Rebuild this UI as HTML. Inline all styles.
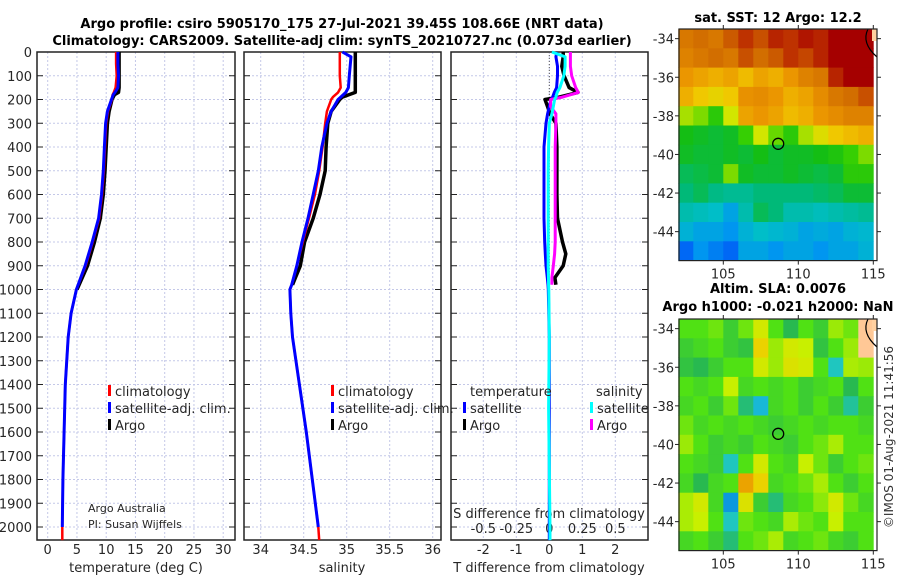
<!DOCTYPE html>
<html><head><meta charset="utf-8"><style>
body{margin:0;background:#fff}
svg{display:block;font-family:"DejaVu Sans","Liberation Sans",sans-serif}
</style></head><body>
<svg id="c" width="900" height="580" viewBox="0 0 900 580">
<text x="342" y="28" text-anchor="middle" font-weight="bold" font-size="13">Argo profile: csiro 5905170_175 27-Jul-2021 39.45S 108.66E (NRT data)</text>
<text x="342" y="45" text-anchor="middle" font-weight="bold" font-size="13">Climatology: CARS2009. Satellite-adj clim: synTS_20210727.nc (0.073d earlier)</text>
<text x="778" y="22" text-anchor="middle" font-weight="bold" font-size="13">sat. SST: 12 Argo: 12.2</text>
<text x="778" y="293" text-anchor="middle" font-weight="bold" font-size="13">Altim. SLA: 0.0076</text>
<text x="778" y="311" text-anchor="middle" font-weight="bold" font-size="13">Argo h1000: -0.021 h2000: NaN</text>
<text transform="translate(893,437) rotate(-90)" text-anchor="middle" font-size="12" fill="#333">©IMOS 01-Aug-2021 11:41:56</text>
<g id="g"></g>
</svg>
<script>
// ---- profile data ----
const depthT = [0,50,100,150,170,180,200,250,300,400,500,600,700,800,900,1000,1100,1200,1400,1600,1800,2000,2055];
const tempArgo = [12.2,12.2,12.2,12.2,12.1,11.4,11.0,10.5,10.2,10.0,9.8,9.5,9.0,8.0,6.8,5.0,null,null,null,null,null,null,null];
const tempClim = [11.7,11.7,11.8,11.6,11.3,11.1,11.0,10.3,10.0,9.8,9.6,9.3,8.8,7.7,6.5,4.9,4.0,3.5,3.0,2.8,2.6,2.5,2.5];
const tempSat = [12.0,12.0,12.1,12.0,11.5,11.2,10.9,10.2,9.9,9.7,9.5,9.2,8.7,7.6,6.4,4.9,4.0,3.5,3.0,2.8,2.6,2.5,null];
const depthS = [0,20,100,150,170,190,200,250,300,400,500,600,700,800,900,980,1000,1100,1200,1400,1600,1800,2000,2055];
const salArgo = [35.10,35.10,35.10,35.10,35.10,34.95,34.92,34.82,34.78,34.76,34.75,34.69,34.61,34.51,34.46,34.37,null,null,null,null,null,null,null,null];
const salClim = [34.92,34.92,34.92,34.93,34.90,34.84,34.82,34.77,34.75,34.72,34.68,34.63,34.56,34.49,34.42,34.36,34.34,34.35,34.37,34.45,34.53,34.60,34.67,34.68];
const salSat = [34.95,35.05,35.03,35.02,34.99,34.93,34.90,34.82,34.77,34.71,34.67,34.61,34.55,34.48,34.42,34.36,34.34,34.35,34.37,34.45,34.53,34.60,34.67,null];
const depthD = [0,20,60,100,150,170,190,200,230,260,300,400,500,600,700,800,850,900,950,980,1000,1200,1500,2000,2055];
const dTArgo = [0.42,0.42,0.38,0.45,0.6,0.87,0.3,-0.13,-0.05,0.02,0.2,0.23,0.23,0.23,0.25,0.4,0.5,0.42,0.17,0.2,null,null,null,null,null];
const dSArgo = [0.16,0.16,0.16,0.17,0.2,0.22,0.1,0.01,0.01,0.05,0.05,0.045,0.045,0.045,0.045,0.045,0.04,0.03,0.02,0.02,null,null,null,null,null];
const dTSat = [0.23,0.2,0.25,0.25,0.22,0.15,0.1,0.05,0.0,-0.05,-0.1,-0.16,-0.16,-0.16,-0.16,-0.14,-0.12,-0.1,-0.06,-0.04,-0.03,0.0,0.0,0.0,0.0];
const dSSat = [0.02,0.12,0.12,0.11,0.08,0.06,0.05,0.04,0.03,0.02,0.0,-0.005,-0.008,-0.008,-0.008,-0.008,-0.008,-0.008,-0.006,-0.005,-0.004,0,-0.005,0.005,0.005];
const depthTicks = [0,100,200,300,400,500,600,700,800,900,1000,1100,1200,1300,1400,1500,1600,1700,1800,1900,2000];
const tTicks = [0,5,10,15,20,25,30];
const sTicks = [34,34.5,35,35.5,36];
const sTickLabels = ['34','34.5','35','35.5','36'];
const dTTicks = [-2,-1,0,1,2];
const dSTicks = [-0.5,-0.25,0,0.25,0.5];
const dSTickLabels = ['-0.5','-0.25','0','0.25','0.5'];
// ---- map data (rows lat -34..-45, cols lon 102..114) ----
const sstGrid = [
[.80,.82,.80,.84,.88,.85,.90,.88,.92,.90,.95,.95,.95],
[.78,.80,.82,.80,.85,.82,.84,.88,.86,.90,.95,.95,.95],
[.74,.72,.70,.72,.68,.72,.70,.74,.78,.80,.90,.95,.95],
[.70,.66,.64,.66,.75,.76,.74,.70,.72,.76,.80,.82,.85],
[.58,.56,.50,.60,.72,.74,.72,.68,.70,.74,.76,.78,.78],
[.46,.45,.44,.45,.52,.60,.55,.50,.58,.62,.66,.68,.70],
[.45,.44,.44,.45,.44,.46,.44,.45,.45,.46,.48,.52,.56],
[.42,.43,.44,.56,.45,.44,.44,.45,.44,.43,.44,.50,.50],
[.40,.42,.39,.38,.38,.40,.40,.40,.40,.41,.42,.44,.44],
[.36,.35,.34,.30,.36,.42,.40,.36,.36,.35,.36,.37,.38],
[.32,.30,.30,.28,.32,.34,.33,.32,.30,.31,.30,.32,.33],
[.24,.28,.26,.24,.30,.30,.28,.30,.30,.28,.30,.30,.32]];
const slaGrid = [
[.50,.50,.52,.46,.52,.60,.50,.42,.50,.46,.55,.52,.80],
[.46,.48,.50,.46,.44,.66,.55,.60,.58,.44,.50,.55,.80],
[.44,.42,.46,.50,.50,.60,.55,.62,.60,.50,.36,.56,.55],
[.50,.48,.50,.58,.48,.50,.48,.50,.46,.48,.50,.42,.50],
[.48,.50,.46,.52,.40,.34,.48,.50,.46,.50,.46,.38,.46],
[.52,.48,.50,.48,.50,.48,.46,.48,.50,.48,.50,.50,.48],
[.55,.50,.46,.48,.46,.50,.48,.46,.50,.52,.56,.50,.50],
[.50,.48,.46,.36,.50,.60,.50,.48,.58,.52,.46,.50,.52],
[.48,.42,.48,.50,.70,.66,.48,.50,.52,.56,.50,.46,.50],
[.56,.60,.48,.32,.62,.46,.40,.48,.50,.54,.60,.52,.48],
[.56,.58,.50,.36,.52,.50,.48,.56,.52,.50,.58,.50,.50],
[.48,.50,.46,.40,.50,.52,.56,.48,.50,.52,.48,.46,.50]];
const lonTicks = [105,110,115];
const latTicks = [-34,-36,-38,-40,-42,-44];
const argoLon = 108.66, argoLat = -39.45;

const NS='http://www.w3.org/2000/svg';
const G=document.getElementById('g');
function mk(tag,at,parent){const e=document.createElementNS(NS,tag);for(const k in at)e.setAttribute(k,at[k]);(parent||G).appendChild(e);return e;}
const Y0=52, YS=0.2375, PB=540;
const yD=d=>Y0+d*YS;
const panels=[
 {x0:37,x1:235,f:v=>47.7+v*5.85,name:'temperature'},
 {x0:244,x1:441,f:v=>260.7+(v-34)*86,name:'salinity'},
 {x0:451,x1:648,f:v=>549.3+v*33,name:'difference'}];
const fS=v=>549.3+v*132;
function txt(x,y,s,at,nm){const t=mk('text',Object.assign({x:x,y:y,'font-size':13,fill:'#262626'},at||{}));t.textContent=s;


return t;}
panels.forEach((p,i)=>{
  const grid=[tTicks,sTicks,dTTicks][i];
  grid.forEach(v=>{const l=mk('line',{x1:p.f(v),x2:p.f(v),y1:Y0,y2:PB,stroke:'#c4c8e8','stroke-width':1,'stroke-dasharray':'2,2'});
    
    });
  depthTicks.forEach(d=>{const l=mk('line',{x1:p.x0,x2:p.x1,y1:yD(d),y2:yD(d),stroke:'#c4c8e8','stroke-width':1,'stroke-dasharray':'2,2'});
    
    
    mk('line',{x1:p.x0,x2:p.x0+6,y1:yD(d),y2:yD(d),stroke:'#222'});
    mk('line',{x1:p.x1-6,x2:p.x1,y1:yD(d),y2:yD(d),stroke:'#222'});});
  const r=mk('rect',{x:p.x0,y:Y0,width:p.x1-p.x0,height:PB-Y0,fill:'none',stroke:'#222','stroke-width':1.5});
  
  
});
depthTicks.forEach(d=>txt(32,yD(d)+5,String(d),{'text-anchor':'end'},'depth-tick-label'));
tTicks.forEach(v=>txt(panels[0].f(v),554,String(v),{'text-anchor':'middle'},'temperature-tick-label'));
sTicks.forEach((v,i)=>txt(panels[1].f(v),554,sTickLabels[i],{'text-anchor':'middle'},'salinity-tick-label'));
dTTicks.forEach(v=>txt(panels[2].f(v),554,String(v),{'text-anchor':'middle'},'t-diff-tick-label'));
dSTicks.forEach((v,i)=>txt(fS(v),533,dSTickLabels[i],{'text-anchor':'middle'},'s-diff-tick-label'));
txt(136,572,'temperature (deg C)',{'text-anchor':'middle'},'x-axis-title-temperature');
txt(342,572,'salinity',{'text-anchor':'middle'},'x-axis-title-salinity');
txt(549,572,'T difference from climatology',{'text-anchor':'middle'},'x-axis-title-t-diff');
txt(549,518,'S difference from climatology',{'text-anchor':'middle'},'s-diff-axis-title');
mk('line',{x1:549.3,x2:549.3,y1:Y0,y2:PB,stroke:'#555','stroke-dasharray':'1,2'});
txt(88,512,'Argo Australia',{'font-size':11},'credit-line-1');
txt(88,528,'PI: Susan Wijffels',{'font-size':11},'credit-line-2');

function series(depths,vals,fx,color,nm,w){
  let d='',pen=false;
  vals.forEach((v,i)=>{if(v===null){pen=false;return;}d+=(pen?'L':'M')+fx(v).toFixed(1)+' '+yD(depths[i]).toFixed(1);pen=true;});
  const p=mk('path',{d:d,fill:'none',stroke:color,'stroke-width':w||3,'stroke-linejoin':'round'});
  
  
}
series(depthT,tempArgo,panels[0].f,'#000','temp-argo-line',3.5);
series(depthT,tempClim,panels[0].f,'#f00','temp-climatology-line',2.5);
series(depthT,tempSat,panels[0].f,'#00f','temp-satellite-line',3);
series(depthS,salArgo,panels[1].f,'#000','sal-argo-line',3.5);
series(depthS,salClim,panels[1].f,'#f00','sal-climatology-line',2.5);
series(depthS,salSat,panels[1].f,'#00f','sal-satellite-line',3);
series(depthD,dTArgo,panels[2].f,'#000','tdiff-argo-line',3.5);
series(depthD,dTSat,panels[2].f,'#00f','tdiff-satellite-line',3);
series(depthD,dSArgo,fS,'#f0f','sdiff-argo-line',3);
series(depthD,dSSat,fS,'#0ff','sdiff-satellite-line',3);

function leg(x,y,color,label,nm){
  const r=mk('rect',{x:x,y:y-11,width:3,height:11,fill:color});
  
  
  txt(x+7,y,label,{},nm);
}
[[108,'climatology','#f00'],[331,'climatology','#f00']].forEach(a=>leg(a[0],396,a[2],a[1],'legend-climatology'));
[108,331].forEach(x=>{leg(x,413,'#00f','satellite-adj. clim.','legend-satellite-adj');leg(x,430,'#000','Argo','legend-argo');});
txt(470,396,'temperature',{},'legend-temperature-heading');
txt(596,396,'salinity',{},'legend-salinity-heading');
leg(463,413,'#00f','satellite','legend-t-satellite');
leg(463,430,'#000','Argo','legend-t-argo');
leg(590,413,'#0ff','satellite','legend-s-satellite');
leg(590,430,'#f0f','Argo','legend-s-argo');

// ---- maps ----
const sstStops=[[0,[0,0,140]],[0.15,[0,0,255]],[0.28,[0,150,240]],[0.34,[0,190,200]],[0.40,[0,185,120]],[0.46,[20,190,20]],[0.53,[60,210,0]],[0.60,[210,230,0]],[0.66,[240,200,0]],[0.74,[235,150,0]],[0.82,[210,110,0]],[0.88,[190,50,0]],[0.95,[165,0,0]],[1,[140,0,0]]];
const slaStops=[[0,[0,0,200]],[0.30,[0,120,230]],[0.35,[30,200,210]],[0.42,[40,185,80]],[0.50,[80,225,20]],[0.58,[200,240,0]],[0.66,[235,210,0]],[0.72,[235,140,0]],[0.8,[255,200,150]],[1,[255,210,170]]];
function col(stops,v){for(let i=1;i<stops.length;i++){if(v<=stops[i][0]){const a=stops[i-1],b=stops[i],t=(v-a[0])/(b[0]-a[0]);return 'rgb('+a[1].map((c,k)=>Math.round(c+(b[1][k]-c)*t)).join(',')+')';}}return 'rgb('+stops[stops.length-1][1].join(',')+')';}
function drawMap(grid,stops,top,nm){
  const X0=679,X1=877,fx=lon=>723.3+(lon-105)*15,fy=lat=>top+(-33.5-lat)*19.3;
  const g=mk('g',{});
  
  
  grid.forEach((row,r)=>row.forEach((v,c)=>{
    const x=fx(102+c),w=Math.min(fx(103+c),X1)-x;
    mk('rect',{x:x.toFixed(1),y:fy(-33.5-r).toFixed(1),width:(w+0.4).toFixed(1),height:19.7,fill:col(stops,v)},g);}));
  const B=fy(-45.5);
  mk('path',{d:`M${X1-9} ${top} Q${X1-16} ${top+14} ${X1} ${top+28}`,fill:'none',stroke:'#000','stroke-width':1.2});
  mk('rect',{x:X1-5,y:top,width:5,height:12,fill:'#ffd0a0'});
  mk('rect',{x:X0,y:top,width:X1-X0,height:B-top,fill:'none',stroke:'#222','stroke-width':1.2});
  const m=mk('circle',{cx:fx(argoLon),cy:fy(argoLat),r:5.5,fill:'none',stroke:'#000','stroke-width':1.3});
  
  
  latTicks.forEach(l=>{txt(674,fy(l)+5,String(l),{'text-anchor':'end'},'lat-tick-label');mk('line',{x1:X0-4,x2:X0,y1:fy(l),y2:fy(l),stroke:'#222'});mk('line',{x1:X1,x2:X1+4,y1:fy(l),y2:fy(l),stroke:'#222'});});
  lonTicks.forEach(l=>{txt(fx(l),B+18,String(l),{'text-anchor':'middle'},'lon-tick-label');mk('line',{x1:fx(l),x2:fx(l),y1:B,y2:B+4,stroke:'#222'});mk('line',{x1:fx(l),x2:fx(l),y1:top-4,y2:top,stroke:'#222'});});
}
drawMap(sstGrid,sstStops,29,'sst-map');
drawMap(slaGrid,slaStops,319,'sla-map');
</script>
</body></html>
